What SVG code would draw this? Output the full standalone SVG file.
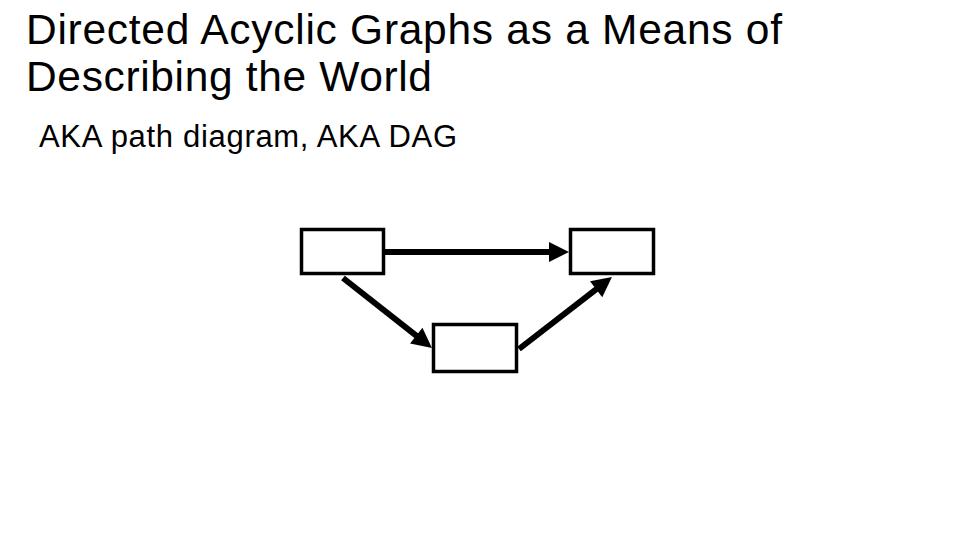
<svg xmlns="http://www.w3.org/2000/svg" width="960" height="540" viewBox="0 0 960 540">
<defs>
<style>
.t{font-family:"Liberation Sans",Arial,sans-serif;fill:#000}
.box{fill:#fff;stroke:#000;stroke-width:3.5}
.edge{stroke:#000;stroke-width:6;fill:none}
</style>
<marker id="ah" markerUnits="userSpaceOnUse" markerWidth="22" markerHeight="20" viewBox="0 0 20 20" refX="4" refY="10" orient="auto">
<path d="M0,0 L20,10 L0,20 z" fill="#000"/>
</marker>
</defs>
<rect width="960" height="540" fill="#fff"/>
<text class="t" x="26" y="43.5" font-size="42.5" textLength="756">Directed Acyclic Graphs as a Means of</text>
<text class="t" x="26" y="90.5" font-size="42.5" textLength="406">Describing the World</text>
<text class="t" x="39" y="147" font-size="31" textLength="418">AKA path diagram, AKA DAG</text>
<g id="connectors">
<line class="edge" x1="385" y1="252" x2="553" y2="252" marker-end="url(#ah)"/>
<line class="edge" x1="343" y1="278" x2="419.4" y2="338.1" marker-end="url(#ah)"/>
<line class="edge" x1="519" y1="349" x2="599.3" y2="286.8" marker-end="url(#ah)"/>
</g>
<g id="node1"><rect class="box" x="301.5" y="229.5" width="82" height="44"/></g>
<g id="node2"><rect class="box" x="570.5" y="229.5" width="83" height="44"/></g>
<g id="node3"><rect class="box" x="433.5" y="324.5" width="83" height="47"/></g>
</svg>
